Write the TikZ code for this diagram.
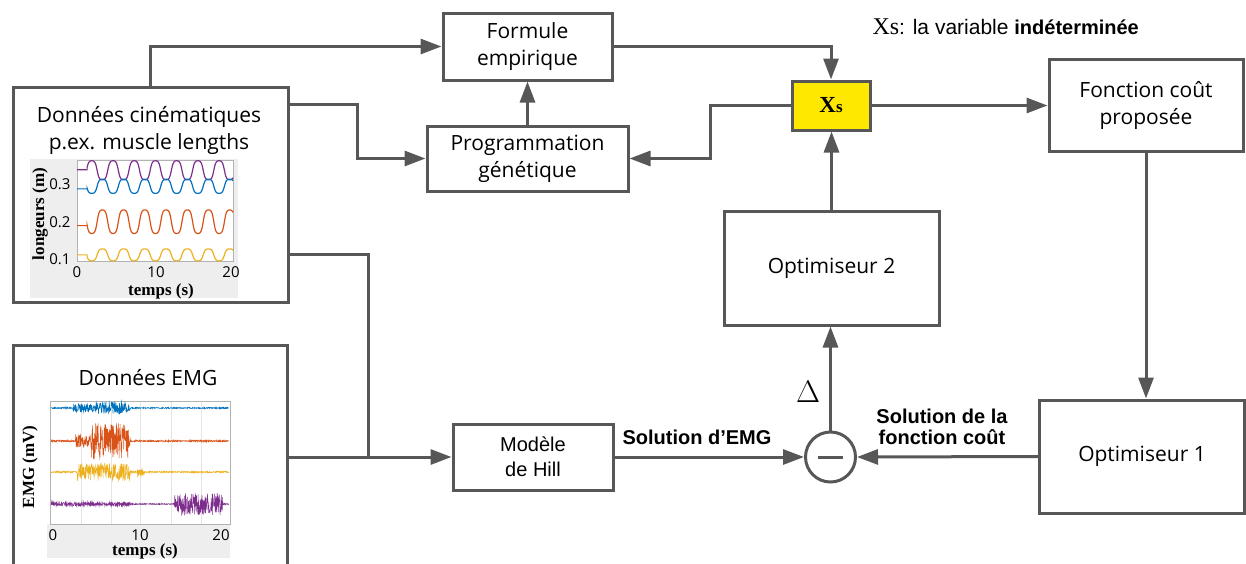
\documentclass[tikz,border=0pt]{standalone}
\usepackage{fontspec}
\setmainfont{Open Sans}
\newfontfamily\arialfont{Liberation Sans}
\newfontfamily\timesfont{Liberation Serif}
\usetikzlibrary{arrows.meta}
\definecolor{wire}{HTML}{575757}
\definecolor{xsyellow}{HTML}{FFE800}
\definecolor{panel}{HTML}{EEEEEE}
\definecolor{mblue}{HTML}{0072BD}
\definecolor{morange}{HTML}{D95319}
\definecolor{myellow}{HTML}{EDB120}
\definecolor{mpurple}{HTML}{7E2F8E}

\begin{document}
\begin{tikzpicture}[x=1pt,y=-1pt,>={Triangle[length=21pt,width=15pt]},
  box/.style={draw=wire,line width=3pt,inner sep=0pt,align=center,font=\fontsize{21}{27}\selectfont},
  link/.style={draw=wire,line width=3pt},
  boldlbl/.style={align=center,font=\arialfont\bfseries\fontsize{20}{21}\selectfont},
  ticklbl/.style={font=\fontsize{15}{15}\selectfont},
  axlbl/.style={font=\timesfont\bfseries\fontsize{17}{17}\selectfont},
  declare function={wave(\t)=tanh(1.6*sin(360*(\t-1.9)/2.72-90))/tanh(1.6);}]
\path[use as bounding box,clip] (0,0) rectangle (1246,563);

% input blocks
\node[box,minimum width=275pt,minimum height=215pt] (cine) at (150.5,194.5) {};
\node[font=\fontsize{21}{27}\selectfont,align=center] (cinetxt) at (149,130) {Donn\'ees cin\'ematiques\\p.ex. muscle lengths};
\node[box,minimum width=274pt,minimum height=260pt] (emg) at (150,475) {};
\node[font=\fontsize{21}{27}\selectfont] (emgtxt) at (148,378) {Donn\'ees EMG};

% muscle lengths plot
\fill[panel] (30,159) rectangle (238,298);
\fill[white] (77,160) rectangle (233,261);
\draw[black!30,line width=0.6pt] (77,160) rectangle (233,261);
\node[ticklbl,anchor=east] (l3) at (74,184) {0.3};
\node[ticklbl,anchor=east] (l2) at (74,222) {0.2};
\node[ticklbl,anchor=east] (l1) at (74,259) {0.1};
\node[ticklbl] (t0) at (77,272) {0};
\node[ticklbl] (t10) at (156,272) {10};
\node[ticklbl] (t20) at (231,272) {20};
\node[axlbl,rotate=90] (ylen) at (40,214) {longeurs (m)};
\node[axlbl] (xlen) at (161,291) {temps (s)};
\begin{scope}[shift={(77,296.5)},x=7.8pt,y=375pt,line width=1.2pt]
\draw[mpurple] (0,0.338) -- (1.3,0.338) -- plot[domain=1.3:20,samples=220] (\x,{0.3365-0.0255*wave(\x)});
\draw[mblue] (0,0.287) -- (1.3,0.287) -- plot[domain=1.3:20,samples=220] (\x,{0.294+0.019*wave(\x)});
\draw[morange] (0,0.189) -- (1.3,0.189) -- plot[domain=1.3:20,samples=220] (\x,{0.1995+0.0315*wave(\x)});
\draw[myellow] (0,0.111) -- (1.3,0.111) -- plot[domain=1.3:20,samples=220] (\x,{0.111+0.016*wave(\x)});
\end{scope}

% EMG plot
\fill[panel] (47,524) rectangle (230,558);
\foreach \gx in {81,111,140,171,201}
  \draw[black!10,line width=0.5pt] (\gx,401) -- (\gx,524);
\draw[black!30,line width=0.6pt] (50,401) rectangle (230,524);
\node[ticklbl] (e0) at (53,535) {0};
\node[ticklbl] (e10) at (140,535) {10};
\node[ticklbl] (e20) at (221,535) {20};
\node[axlbl,rotate=90] (yemg) at (30,467) {EMG (mV)};
\node[axlbl] (xemg) at (145,551) {temps (s)};
\pgfmathsetseed{11}
\begin{scope}[shift={(51,0)},x=8.8pt,line width=0.5pt]
\draw[mblue] plot[domain=0:20.2,samples=700] (\x,{408+(0.7+3.5*(\x>2.5)*(\x<9)+2*(\x>5)*(\x<8.5))*rand});
\draw[morange] plot[domain=0:20.2,samples=700] (\x,{441+(0.8+6*(\x>2.8)*(\x<9)+11*(\x>4.6)*(\x<8.8))*rand});
\draw[myellow] plot[domain=0:20.2,samples=700] (\x,{472+(0.8+8*(\x>3)*(\x<9)+3*(\x>9.8)*(\x<10.6))*rand});
\draw[mpurple] plot[domain=0:20.2,samples=700] (\x,{504+(0.6+1.4*(\x<9)+11*(\x>14)*(\x<19.5))*rand});
\end{scope}

% processing blocks
\node[box,minimum width=169pt,minimum height=67pt] (form) at (527.5,46.5) {Formule\\empirique};
\node[box,minimum width=201pt,minimum height=65pt] (prog) at (527.5,158.5) {Programmation\\g\'en\'etique};
\node[box,fill=xsyellow,minimum width=78pt,minimum height=49pt,font=\timesfont\bfseries\fontsize{23}{23}\selectfont] (xs) at (831,105.5) {X\fontsize{17}{17}\selectfont s};
\node[box,minimum width=194pt,minimum height=92pt] (fonc) at (1146,105) {Fonction co\^ut\\propos\'ee};
\node[box,minimum width=215pt,minimum height=114pt] (opt2) at (831.5,268) {Optimiseur 2};
\node[box,minimum width=205pt,minimum height=113pt] (opt1) at (1142,456.5) {Optimiseur 1};
\node[box,minimum width=160pt,minimum height=66pt,font=\arialfont\fontsize{20}{25}\selectfont] (hill) at (533,457) {Mod\`ele\\de Hill};
\node[circle,draw=wire,line width=3pt,minimum size=50pt,inner sep=0pt] (diff) at (830.5,457) {};
\draw[link] ([xshift=-12.5pt]diff.center) -- ([xshift=12.5pt]diff.center);

% connectors
\draw[link,->] (cine.north) |- (form.west);
\draw[link,->] (cine.east |- 0,104) -- (357,104) |- (prog.west);
\draw[link] (cine.east |- 0,254) -- (368,254) -- (368,457);
\draw[link,->] (emg.east |- hill.west) -- (hill.west);
\draw[link,->] (prog.north) -- (form.south);
\draw[link,->] (form.east) -| (xs.north);
\draw[link,->] (xs.west) -- (710,105.5) |- (prog.east);
\draw[link,->] (xs.east) -- (xs.east -| fonc.west);
\draw[link,->] (fonc.south) -- (fonc.south |- opt1.north);
\draw[link,->] (opt2.north) -- (opt2.north |- xs.south);
\draw[link,->] (diff.north) -- (diff.north |- opt2.south);
\draw[link,->] (hill.east) -- (diff.west);
\draw[link,->] (opt1.west) -- (diff.east);

% labels
\node[boldlbl] (emgsol) at (697,437) {Solution d’EMG};
\node[boldlbl] (coutsol) at (942,427) {Solution de la\\fonction co\^ut};
\node[font=\fontsize{24.88}{25}\selectfont] (delta) at (808,392) {\scalebox{1.25}{$\Delta$}};
\node[anchor=west,font=\arialfont\fontsize{21}{21}\selectfont] (note) at (869,27) {{\timesfont\fontsize{24}{24}\selectfont Xs}: la variable {\bfseries\fontsize{20}{20}\selectfont ind\'etermin\'ee}};
\end{tikzpicture}
\end{document}
